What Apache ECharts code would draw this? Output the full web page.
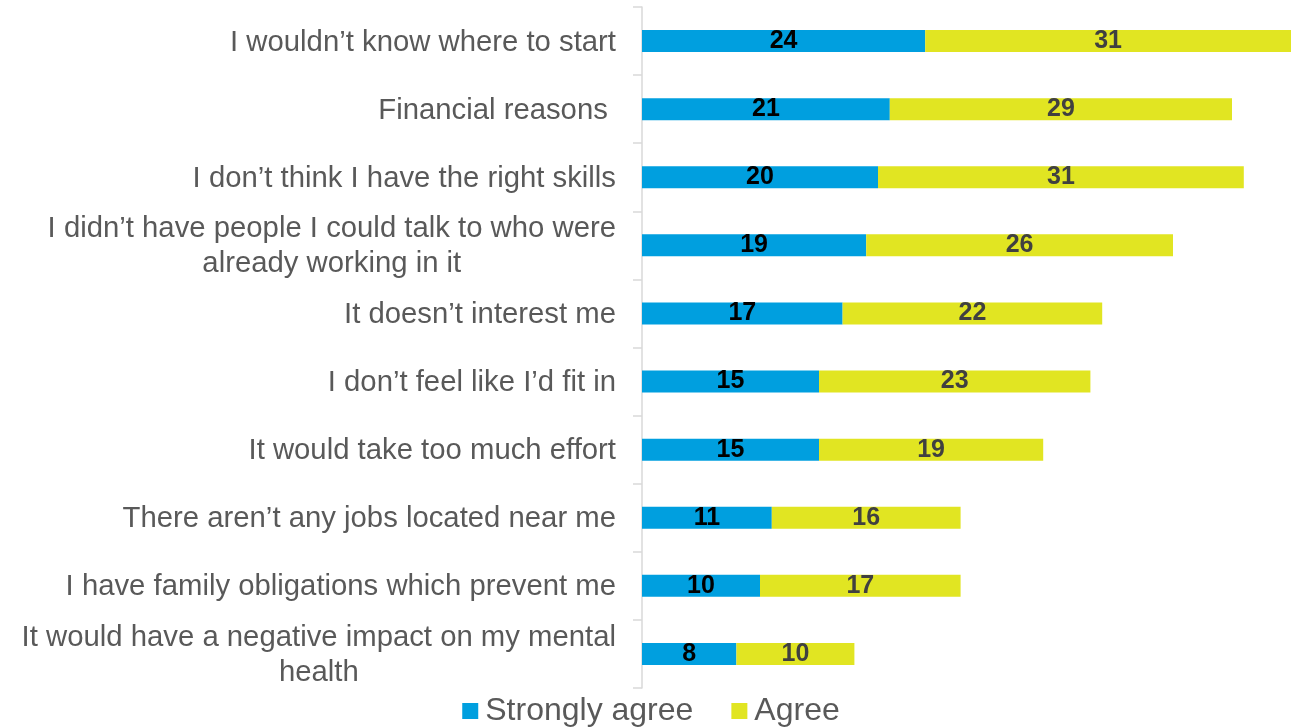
<!DOCTYPE html>
<html>
<head>
<meta charset="utf-8">
<script src="https://cdn.jsdelivr.net/npm/echarts@6/dist/echarts.min.js"></script>
<style>
  html, body { margin: 0; padding: 0; background: #ffffff; }
  #chart { width: 1302px; height: 727px; }
</style>
</head>
<body>
<div id="chart"></div>
<script>
// Reasons for not pursuing the career, listed top to bottom
const categories = [
  "I wouldn\u2019t know where to start",
  "Financial reasons ",
  "I don\u2019t think I have the right skills",
  "I didn\u2019t have people I could talk to who were\nalready working in it",
  "It doesn\u2019t interest me",
  "I don\u2019t feel like I\u2019d fit in",
  "It would take too much effort",
  "There aren\u2019t any jobs located near me",
  "I have family obligations which prevent me",
  "It would have a negative impact on my mental\nhealth"
];
const stronglyAgree = [24, 21, 20, 19, 17, 15, 15, 11, 10, 8];
const agree = [31, 29, 31, 26, 22, 23, 19, 16, 17, 10];
const seriesNames = ["Strongly agree", "Agree"];

const chart = echarts.init(document.getElementById('chart'), null, { renderer: 'canvas' });

const font = 'Liberation Sans, Arial, sans-serif';

chart.setOption({
  animation: false,
  backgroundColor: '#ffffff',
  grid: { left: 642, right: 11, top: 7, bottom: 39, containLabel: false },
  legend: {
    top: 690,
    left: 'center',
    itemWidth: 16,
    itemHeight: 16,
    itemGap: 38,
    icon: 'rect',
    textStyle: { fontFamily: font, fontSize: 32, color: '#595959', padding: [0, 0, 0, 2] },
    data: seriesNames
  },
  xAxis: {
    type: 'value',
    min: 0,
    max: 55,
    show: false
  },
  yAxis: {
    type: 'category',
    inverse: true,
    data: categories,
    axisLine: { show: true, lineStyle: { color: '#d9d9d9', width: 1.5 } },
    axisTick: { show: true, length: 9, lineStyle: { color: '#d9d9d9', width: 1.5 } },
    axisLabel: {
      margin: 26,
      align: 'right',
      // wrapped labels: each line centred within the label block
      formatter: function (v) {
        return v.split('\n').map(function (line) { return '{c|' + line + '}'; }).join('\n');
      },
      rich: {
        c: {
          fontFamily: font,
          fontSize: 29.3,
          color: '#595959',
          align: 'center',
          lineHeight: 35,
          padding: [3, 0, 0, 0]
        }
      }
    }
  },
  series: [
    {
      name: seriesNames[0],
      type: 'bar',
      stack: 'total',
      barWidth: 22,
      data: stronglyAgree,
      itemStyle: { color: '#009fdf' },
      label: {
        show: true,
        position: 'inside',
        fontFamily: font,
        fontSize: 25,
        fontWeight: 'bold',
        color: '#000000'
      }
    },
    {
      name: seriesNames[1],
      type: 'bar',
      stack: 'total',
      barWidth: 22,
      data: agree,
      itemStyle: { color: '#e1e522' },
      label: {
        show: true,
        position: 'inside',
        fontFamily: font,
        fontSize: 25,
        fontWeight: 'bold',
        color: '#404040'
      }
    }
  ]
});
</script>
</body>
</html>
